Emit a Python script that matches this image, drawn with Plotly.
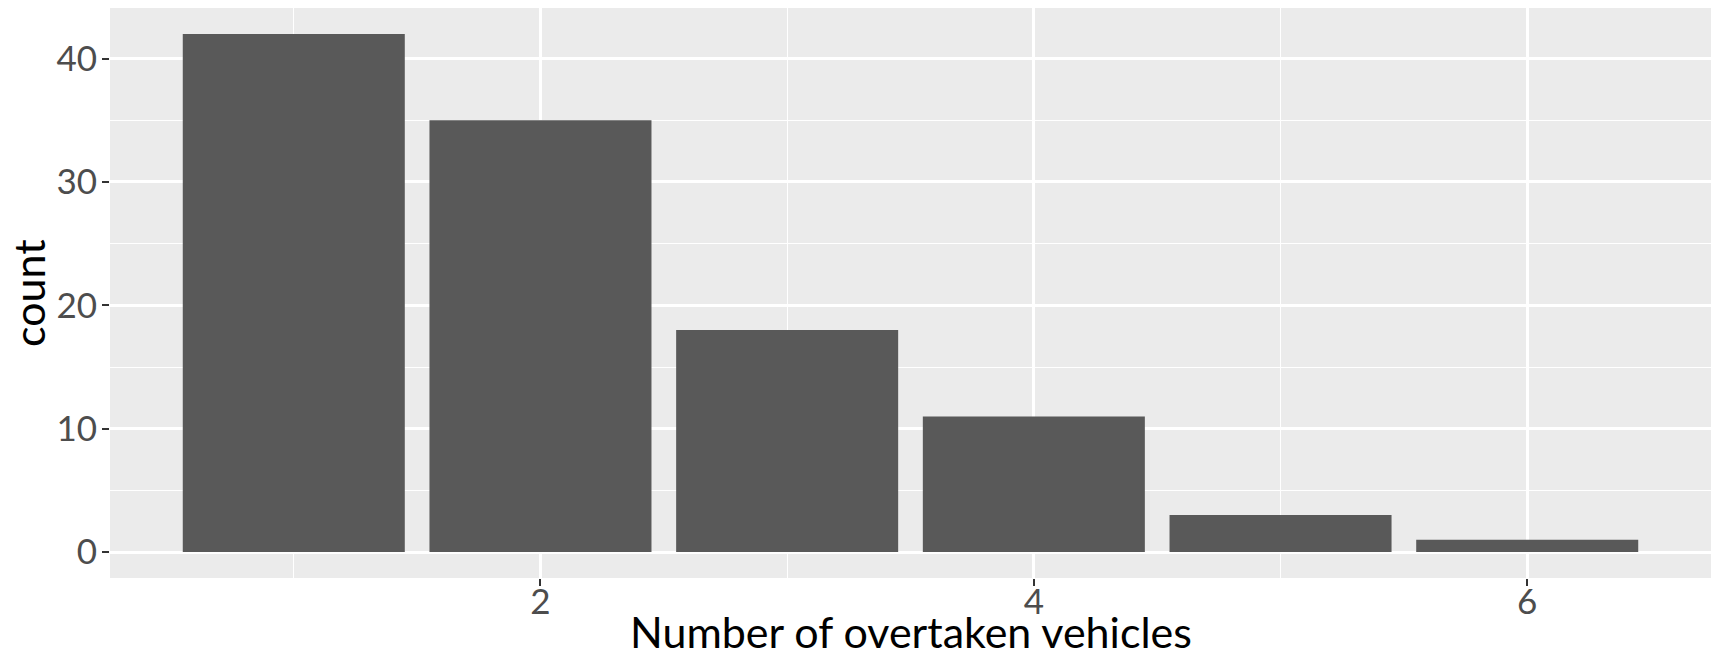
import plotly.graph_objects as go

vehicles = [1, 2, 3, 4, 5, 6]
counts = [42, 35, 18, 11, 3, 1]
x_ticks = [2, 4, 6]
y_ticks = [0, 10, 20, 30, 40]

FONT = "Lato"
W, H = 1711, 659
L, R, T, B = 110, 0, 8, 81

fig = go.Figure(go.Bar(
    x=vehicles, y=counts, width=0.9,
    marker=dict(color="#595959", line=dict(width=0)),
))

fig.update_layout(
    width=W, height=H,
    margin=dict(l=L, r=R, t=T, b=B, autoexpand=False),
    paper_bgcolor="white", plot_bgcolor="#EBEBEB",
    showlegend=False,
    font=dict(family=FONT),
    annotations=[
        dict(text="Number of overtaken vehicles", xref="paper", yref="paper",
             x=0.5, y=-(658 - (H - B)) / (H - T - B), xanchor="center", yanchor="bottom",
             showarrow=False, font=dict(size=43, color="black", family=FONT),
             borderpad=0),
        dict(text="count", xref="paper", yref="paper",
             x=-(L - 28) / (W - L - R), y=0.5, xanchor="center", yanchor="middle",
             textangle=-90, showarrow=False, font=dict(size=43, color="black", family=FONT)),
    ],
)
fig.update_xaxes(
    range=[0.255, 6.745], tickvals=x_ticks, ticktext=[str(v) for v in x_ticks],
    showgrid=True, gridcolor="white", gridwidth=2.5,
    ticks="outside", ticklen=7, tickwidth=2, tickcolor="#333333",
    tickfont=dict(size=35, color="#4D4D4D", family=FONT),
    ticklabelstandoff=-14,
    minor=dict(tickvals=[1, 3, 5], showgrid=True, gridcolor="white", gridwidth=1.2, ticks=""),
    zeroline=False, showline=False, automargin=False,
)
fig.update_yaxes(
    range=[-2.1, 44.1], tickvals=y_ticks, ticktext=[str(v) for v in y_ticks],
    showgrid=True, gridcolor="white", gridwidth=2.5,
    ticks="outside", ticklen=7, tickwidth=2, tickcolor="#333333",
    tickfont=dict(size=35, color="#4D4D4D", family=FONT),
    ticklabelstandoff=-2,
    minor=dict(tickvals=[5, 15, 25, 35], showgrid=True, gridcolor="white", gridwidth=1.2, ticks=""),
    zeroline=False, showline=False, automargin=False,
)

fig.write_html(
    "out.html",
    config={"displayModeBar": False},
    post_script="document.body.style.margin='0';document.body.style.overflow='hidden';",
)
